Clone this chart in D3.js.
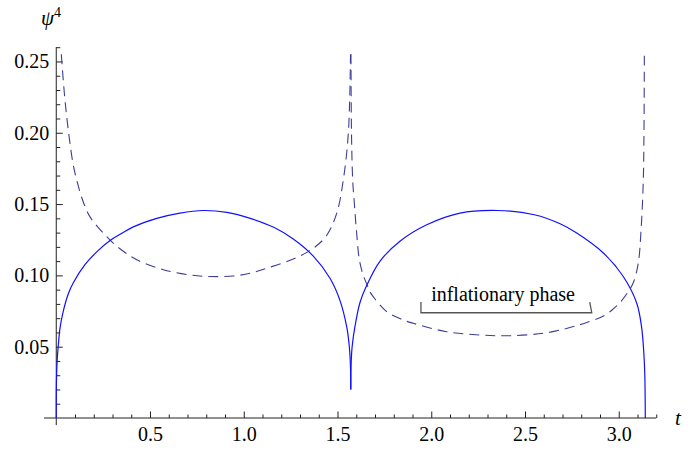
<!DOCTYPE html>
<html>
<head>
<meta charset="utf-8">
<script src="https://cdn.jsdelivr.net/npm/d3@7"></script>
<style>
  body { margin: 0; background: #fff; }
</style>
</head>
<body>
<div id="chart"></div>
<script>
// solid curve, two arches meeting in a cusp at t = pi/2
const solidT1 = [0, 0.001, 0.0056, 0.011, 0.020, 0.0376, 0.064, 0.091, 0.153, 0.22, 0.287, 0.35, 0.411, 0.536, 0.66, 0.785, 0.91, 1.035, 1.16, 1.264, 1.371, 1.46, 1.513, 1.549, 1.563, 1.569, 1.5708];
const solidPsi1 = [0, 0.025, 0.042, 0.051, 0.063, 0.075, 0.087, 0.0948, 0.1075, 0.117, 0.1245, 0.1295, 0.134, 0.140, 0.1437, 0.1455, 0.1442, 0.140, 0.1337, 0.1255, 0.1135, 0.098, 0.0825, 0.064, 0.050, 0.037, 0.020];
const solidT2 = [1.5708, 1.5725, 1.578, 1.593, 1.62, 1.656, 1.727, 1.833, 1.976, 2.153, 2.356, 2.55, 2.69, 2.776, 2.918, 3.024, 3.096, 3.122, 3.134, 3.139, 3.1416];
const solidPsi2 = [0.020, 0.037, 0.050, 0.064, 0.081, 0.093, 0.110, 0.124, 0.1355, 0.1437, 0.1455, 0.1425, 0.136, 0.1297, 0.1157, 0.0992, 0.0805, 0.0635, 0.045, 0.030, 0];

// dashed curve, two branches blowing up at 0, pi/2, pi
const dashT1 = [0.027, 0.045, 0.066, 0.09, 0.109, 0.14, 0.18, 0.251, 0.322, 0.429, 0.571, 0.713, 0.82, 0.944, 1.035, 1.122, 1.264, 1.371, 1.442, 1.496, 1.531, 1.558, 1.5695];
const dashPsi1 = [0.255, 0.225, 0.200, 0.178, 0.167, 0.153, 0.141, 0.1297, 0.1205, 0.111, 0.104, 0.1003, 0.0992, 0.0996, 0.1015, 0.105, 0.1115, 0.119, 0.128, 0.1436, 0.167, 0.200, 0.255];
const dashT2 = [1.5718, 1.5746, 1.581, 1.59, 1.602, 1.616, 1.635, 1.659, 1.673, 1.762, 1.851, 1.904, 2.082, 2.26, 2.42, 2.598, 2.722, 2.818, 2.918, 2.971, 3.007, 3.045, 3.078, 3.104, 3.119, 3.131, 3.1345, 3.1365];
const dashPsi2 = [0.255, 0.200, 0.167, 0.150, 0.130, 0.1115, 0.101, 0.093, 0.0885, 0.0746, 0.0687, 0.0664, 0.0605, 0.0582, 0.0577, 0.0594, 0.0628, 0.0665, 0.0715, 0.0765, 0.081, 0.0875, 0.095, 0.1085, 0.1318, 0.167, 0.200, 0.255];

// ticks
const xTicks = [0.5, 1.0, 1.5, 2.0, 2.5, 3.0];
const yTicks = [0.05, 0.10, 0.15, 0.20, 0.25];

// annotation
const noteText = "inflationary phase";
const noteT = [1.945, 2.856];
const notePsi = 0.0738;
const noteTickPsi = 0.0813;
const noteTextT = 2.383;
const noteTextPsi = 0.0823;

const W = 694, H = 450;
const serif = '"Liberation Serif", serif';

const svg = d3
  .select("#chart")
  .append("svg")
  .attr("width", W)
  .attr("height", H);

// X & Y scales
const x = d3.scaleLinear().domain([0, 3.2]).range([56.25, 656.25]);
const y = d3.scaleLinear().domain([0, 0.26]).range([418, 47.2]);

const axisColor = "#222";

// minor ticks
const xMinor = d3.range(1, 33).map((i) => i / 10).filter((v) => !xTicks.some((m) => Math.abs(m - v) < 1e-6));
const yMinor = d3.range(1, 27).map((i) => i / 100).filter((v) => !yTicks.some((m) => Math.abs(m - v) < 1e-6));

svg
  .append("g")
  .attr("transform", `translate(0,${y(0)})`)
  .call(d3.axisBottom(x).tickValues(xMinor).tickSizeInner(-3.5).tickSizeOuter(0).tickFormat(""));
svg
  .append("g")
  .attr("transform", `translate(${x(0)},0)`)
  .call(d3.axisLeft(y).tickValues(yMinor).tickSizeInner(-4).tickSizeOuter(0).tickFormat(""));

// major ticks with labels
const xAxis = svg
  .append("g")
  .attr("transform", `translate(0,${y(0)})`)
  .call(d3.axisBottom(x).tickValues(xTicks).tickSizeInner(-6.5).tickSizeOuter(0).tickPadding(9).tickFormat(d3.format(".1f")));
const yAxis = svg
  .append("g")
  .attr("transform", `translate(${x(0)},0)`)
  .call(d3.axisLeft(y).tickValues(yTicks).tickSizeInner(-6.5).tickSizeOuter(0).tickPadding(7).tickFormat(d3.format(".2f")));

svg.selectAll(".domain").remove();
svg.selectAll(".tick line").attr("stroke", axisColor);
svg
  .selectAll(".tick text")
  .attr("fill", "#000")
  .style("font-family", serif)
  .style("font-size", "20px");
xAxis.selectAll(".tick text").attr("dy", "0.71em");

// axis lines, a bit past the origin like the original
svg
  .append("line")
  .attr("x1", x(-0.065)).attr("x2", x(3.2))
  .attr("y1", y(0)).attr("y2", y(0))
  .attr("stroke", axisColor);
svg
  .append("line")
  .attr("x1", x(0)).attr("x2", x(0))
  .attr("y1", y(-0.005)).attr("y2", y(0.26))
  .attr("stroke", axisColor);

// Line generator (smooth curve through the read points)
const line = d3
  .line()
  .x((d) => x(d[0]))
  .y((d) => y(d[1]))
  .curve(d3.curveCatmullRom.alpha(0.5));

const zip = (a, b) => a.map((v, i) => [v, b[i]]);

// dashed curve
[zip(dashT1, dashPsi1), zip(dashT2, dashPsi2)].forEach((pts) => {
  svg
    .append("path")
    .datum(pts)
    .attr("d", line)
    .attr("fill", "none")
    .attr("stroke", "#3d3d99")
    .attr("stroke-width", 1.1)
    .attr("stroke-dasharray", "10,6");
});

// solid curve
[zip(solidT1, solidPsi1), zip(solidT2, solidPsi2)].forEach((pts) => {
  svg
    .append("path")
    .datum(pts)
    .attr("d", line)
    .attr("fill", "none")
    .attr("stroke", "#1010ff")
    .attr("stroke-width", 1.2);
});

// annotation bracket
svg
  .append("path")
  .attr(
    "d",
    `M${x(noteT[0])},${y(noteTickPsi)}L${x(noteT[0])},${y(notePsi)}L${x(noteT[1])},${y(notePsi)}L${x(noteT[1]) - 2},${y(noteTickPsi)}`
  )
  .attr("fill", "none")
  .attr("stroke", "#555")
  .attr("stroke-width", 1.3);

svg
  .append("text")
  .attr("x", x(noteTextT))
  .attr("y", y(noteTextPsi))
  .attr("text-anchor", "middle")
  .style("font-family", serif)
  .style("font-size", "20px")
  .text(noteText);

// axis labels
const psiLabel = svg
  .append("text")
  .attr("x", 41)
  .attr("y", 25)
  .style("font-family", serif)
  .style("font-size", "21px");
psiLabel.append("tspan").style("font-style", "italic").text("\u03c8");
psiLabel.append("tspan").style("font-size", "14px").attr("dy", -8).text("4");

svg
  .append("text")
  .attr("x", 675)
  .attr("y", 425)
  .style("font-family", serif)
  .style("font-size", "21px")
  .style("font-style", "italic")
  .text("t");
</script>
</body>
</html>
